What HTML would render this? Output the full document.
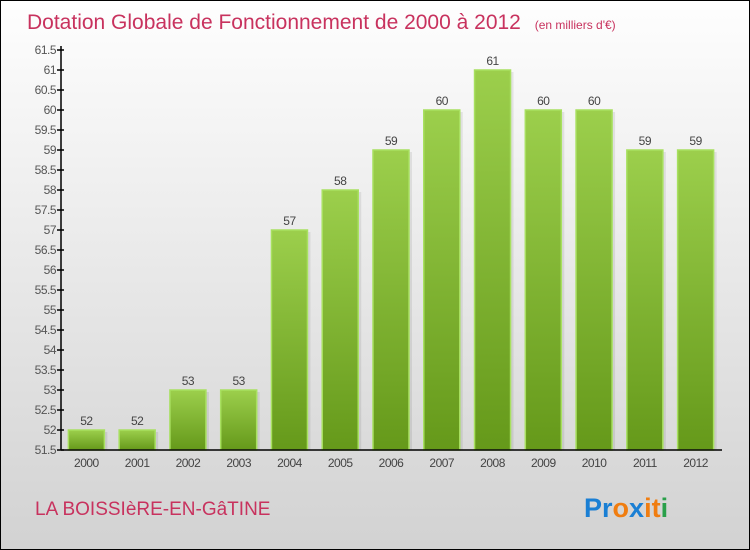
<!DOCTYPE html>
<html><head><meta charset="utf-8"><style>
body{margin:0;}
#wrap{position:relative;width:748px;height:548px;border:1px solid #000;background:linear-gradient(#fefefe,#d2d2d2);font-family:"Liberation Sans",sans-serif;overflow:hidden}
</style></head><body>
<div id="wrap">
<svg id="svg" width="748" height="548" xmlns="http://www.w3.org/2000/svg">
<defs>
<linearGradient id="bg" x1="0" y1="0" x2="0" y2="1"><stop offset="0" stop-color="#9ccf4c"/><stop offset="1" stop-color="#65991a"/></linearGradient>
</defs>
<text x="26" y="28" font-size="21" fill="#c8325e">Dotation Globale de Fonctionnement de 2000 à 2012 <tspan font-size="12" dx="8">(en milliers d'€)</tspan></text>
<g id="plot"></g>
<text x="34" y="514" font-size="19" fill="#c8325e">LA BOISSIèRE-EN-GâTINE</text>
<g font-size="27" font-weight="bold" font-family="'Liberation Sans',sans-serif">
<text x="583" y="516"><tspan fill="#1a7fd4">Pr</tspan><tspan fill="#f07d10">o</tspan><tspan fill="#1a7fd4">x</tspan><tspan fill="#f07d10">i</tspan><tspan fill="#f07d10">t</tspan><tspan fill="#2aa04a">i</tspan></text>
</g>
</svg>
</div>
<script>
const categories=["2000","2001","2002","2003","2004","2005","2006","2007","2008","2009","2010","2011","2012"];
const values=[52,52,53,53,57,58,59,60,61,60,60,59,59];
const tickLabels=["51.5","52","52.5","53","53.5","54","54.5","55","55.5","56","56.5","57","57.5","58","58.5","59","59.5","60","60.5","61","61.5"];
const NS="http://www.w3.org/2000/svg";
const g=document.getElementById('plot');
const x0=60,x1=720,yMin=51.5,yMax=61.5,yTop=49,yBot=449;
const band=(x1-x0)/categories.length;
function y(v){return yBot-(v-yMin)/(yMax-yMin)*(yBot-yTop);}
function xc(i){return x0+band*(i+0.5);}
function mk(t,a){const e=document.createElementNS(NS,t);for(const k in a)e.setAttribute(k,a[k]);g.appendChild(e);return e;}
tickLabels.forEach(t=>{const v=parseFloat(t),yy=y(v);
 const l=mk('line',{x1:x0-4,x2:x0+3,y1:yy,y2:yy,stroke:'#000','stroke-width':1.5});
 
 
 const tx=mk('text',{x:x0-5,y:yy+4,'text-anchor':'end','font-size':12,fill:'#555','letter-spacing':'-0.5'});
 tx.textContent=t;
 
 
});
categories.forEach((c,i)=>{const cx=xc(i),w=36,top=y(values[i]);
 const sh=mk('rect',{x:cx-w/2+3,y:top+2,width:w,height:yBot-top-2,fill:'#000',opacity:0.08});
 
 
 const r=mk('rect',{x:cx-w/2,y:top,width:w,height:yBot-top,fill:'url(#bg)',stroke:'#a8e060','stroke-width':1.5});
 
 
 const vl=mk('text',{x:cx,y:top-5,'text-anchor':'middle','font-size':12,fill:'#444','letter-spacing':'-0.5'});
 vl.textContent=values[i];
 
 
 const xl=mk('text',{x:cx,y:yBot+17,'text-anchor':'middle','font-size':12,fill:'#444','letter-spacing':'-0.5'});
 xl.textContent=c;
 
 
});
const ya=mk('line',{x1:x0,x2:x0,y1:yTop-4,y2:yBot,stroke:'#000','stroke-width':1.5});


const xa=mk('line',{x1:x0,x2:x1+1,y1:yBot,y2:yBot,stroke:'#000','stroke-width':1.5});


</script>
</body></html>
